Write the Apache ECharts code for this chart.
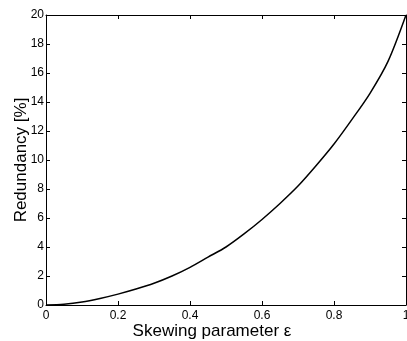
<!DOCTYPE html>
<html><head><meta charset="utf-8">
<script src="https://cdn.jsdelivr.net/npm/echarts@6/dist/echarts.min.js"></script>
<style>html,body{margin:0;padding:0;background:#fff}#c{width:407px;height:341px}</style>
</head><body><div id="c"></div>
<script>
const epsilon = [0,0.05,0.1,0.15,0.2,0.25,0.3,0.35,0.4,0.45,0.5,0.55,0.6,0.65,0.7,0.75,0.8,0.85,0.9,0.95,1.0];
const redundancy = [0,0.05,0.2,0.45,0.75,1.1,1.5,2.0,2.6,3.3,4.0,4.9,5.9,7.0,8.2,9.6,11.1,12.8,14.6,16.8,20];
const xTicks = [0,0.2,0.4,0.6,0.8,1];
const yTicks = [0,2,4,6,8,10,12,14,16,18,20];

const chart = echarts.init(document.getElementById('c'));
const font = 'Liberation Sans, Arial, sans-serif';
const axisCommon = {
  axisLine:{show:true,onZero:false,lineStyle:{color:'#000',width:1}},
  axisTick:{show:true,inside:true,length:4,lineStyle:{color:'#000'}},
  splitLine:{show:false},
  nameMoveOverlap:false
};
chart.setOption({
  animation:false,
  grid:{left:46,right:1,top:15,bottom:36,containLabel:false,outerBoundsMode:'none'},
  xAxis:[
    Object.assign({type:'value',min:0,max:1,interval:0.2,position:'bottom',
      name:'Skewing parameter ε',nameLocation:'middle',nameGap:18,
      nameTextStyle:{color:'#000',fontSize:17,fontFamily:font,padding:[0,28,0,0]},
      axisLabel:{color:'#000',fontSize:12,fontFamily:font,margin:5,
        formatter:v=>xTicks.includes(+v.toFixed(1))?String(+v.toFixed(1)):''}},axisCommon),
    Object.assign({type:'value',min:0,max:1,interval:0.2,position:'top',axisLabel:{show:false}},axisCommon)
  ],
  yAxis:[
    Object.assign({type:'value',min:0,max:20,interval:2,position:'left',
      name:'Redundancy [%]',nameLocation:'middle',nameGap:16,
      nameTextStyle:{color:'#000',fontSize:17,fontFamily:font},
      axisLabel:{color:'#000',fontSize:12,fontFamily:font,margin:2,
        formatter:v=>yTicks.includes(v)?String(v):''}},axisCommon),
    Object.assign({type:'value',min:0,max:20,interval:2,position:'right',axisLabel:{show:false}},axisCommon)
  ],
  series:[{
    type:'line',xAxisIndex:0,yAxisIndex:0,
    data:epsilon.map((e,i)=>[e,redundancy[i]]),
    smooth:0.3,showSymbol:false,
    lineStyle:{color:'#000',width:1.5}
  }]
});
</script></body></html>
